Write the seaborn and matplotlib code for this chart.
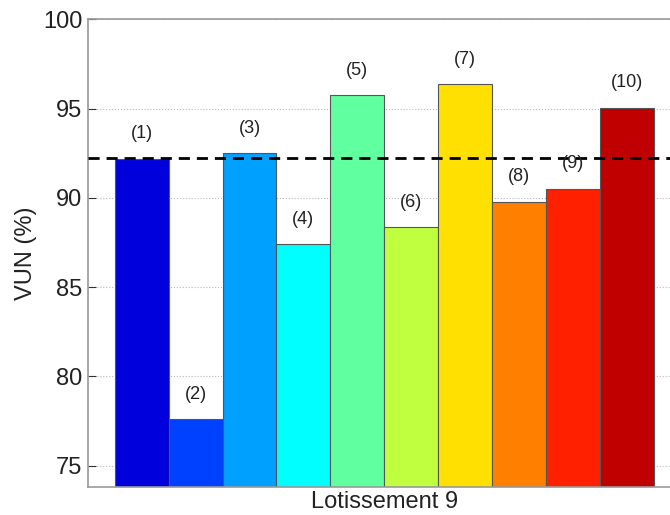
import pandas as pd
import seaborn as sns
import matplotlib.pyplot as plt

labels = ["(1)", "(2)", "(3)", "(4)", "(5)", "(6)", "(7)", "(8)", "(9)", "(10)"]
vun = [92.2, 77.6, 92.5, 87.4, 95.75, 88.35, 96.37, 89.78, 90.5, 95.06]
mean_vun = 92.25
bar_colors = ["#0000dc", "#0040ff", "#00a0ff", "#00ffff", "#60ffa0",
              "#c0ff40", "#ffe000", "#ff8000", "#ff2000", "#c00000"]

data = pd.DataFrame({"lot": labels, "VUN": vun})

sns.set_style("white")
plt.rcParams["font.family"] = ["Liberation Sans", "DejaVu Sans"]

fig = plt.figure(figsize=(6.7, 5.15), dpi=100)
ax = fig.add_axes([0.131, 0.054, 0.885, 0.9085])

sns.barplot(data=data, x="lot", y="VUN", hue="lot", palette=bar_colors,
            legend=False, width=1.0, edgecolor="#555555", linewidth=0.8,
            saturation=1, ax=ax, zorder=2)

for i, v in enumerate(vun):
    ax.text(i, v + 1.4, labels[i], ha="center", va="center", fontsize=13, color="#222222", zorder=4)

ax.axhline(mean_vun, color="black", linestyle=(0, (4, 2.5)), linewidth=2, zorder=3)

ax.set_xlim(-1, 10)
ax.set_ylim(73.8, 100)
ax.set_yticks([75, 80, 85, 90, 95, 100])
ax.set_xticks([])
ax.yaxis.grid(True, linestyle=":", color="#bbbbbb", linewidth=0.8)
ax.set_axisbelow(True)
ax.tick_params(axis="y", direction="in", length=6, color="#333333", labelcolor="#222222",
               labelsize=17, left=True, pad=4)

for s in ax.spines.values():
    s.set_color("#999999")
    s.set_linewidth(1.2)

ax.set_xlabel("Lotissement 9", fontsize=17, labelpad=3, color="#222222")
ax.set_ylabel("VUN (%)", fontsize=17, labelpad=4, color="#222222")

plt.savefig("out.png", dpi=100)
